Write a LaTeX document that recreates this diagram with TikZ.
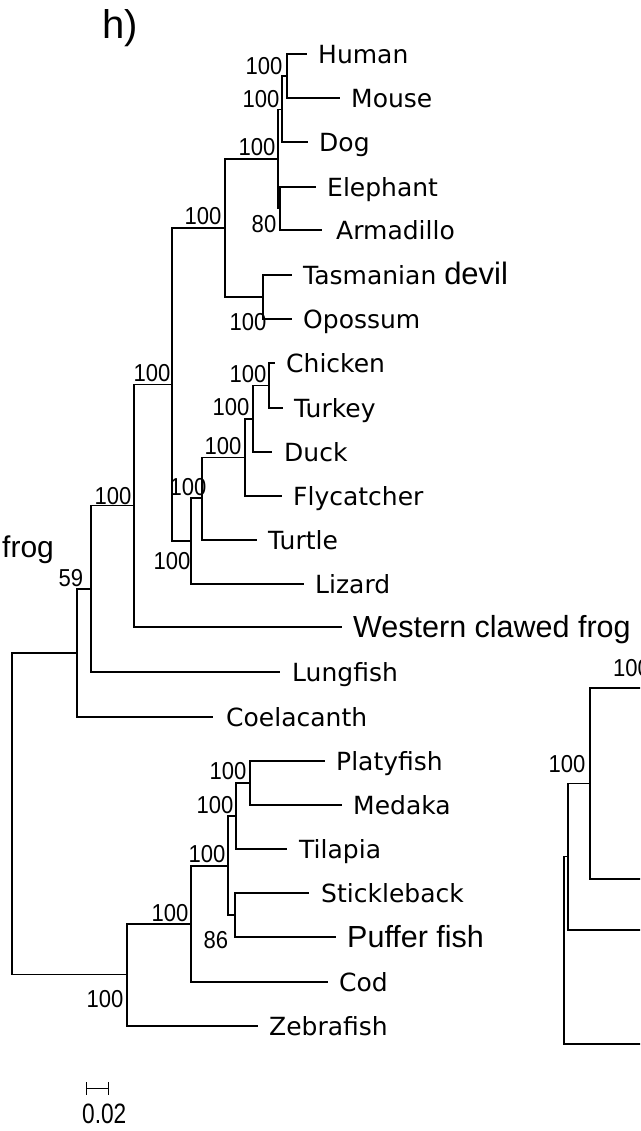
\documentclass[tikz,border=0pt]{standalone}
\usepackage{fontspec}
\newfontfamily\gothic{DejaVu Sans}
\newfontfamily\arial{Liberation Sans}
\newcommand{\bsv}[1]{\scalebox{0.9}[1]{\arial\fontsize{24.5}{24.5}\selectfont #1}}
\begin{document}
\begin{tikzpicture}[x=1pt,y=-1pt,
  br/.style={line width=1.1pt, line join=miter},
  rt/.style={line width=1.9pt, line join=miter},
  leaf/.style={anchor=west, inner xsep=11pt, inner ysep=0pt,
    font=\gothic\fontsize{25}{25}\selectfont, text height=18.2pt, text depth=0pt},
  leafA/.style={leaf, font=\arial\fontsize{30.5}{30.5}\selectfont, text height=21.8pt},
  boot/.style={inner sep=0pt, text height=17.5pt, text depth=0pt}
]
\useasboundingbox (0,0) rectangle (640,1131);
\clip (0,0) rectangle (640,1131);

% panel label and cut-off text from neighbouring panel
\node[anchor=base west, inner sep=0pt, font=\arial\fontsize{40}{40}\selectfont] (hlab) at (102,39) {h)};
\node[anchor=base west, inner sep=0pt, font=\arial\fontsize{30}{30}\selectfont] (frogcut) at (2,557) {frog};

% internal nodes
\coordinate (nHM)   at (287,76);
\coordinate (nHMD)  at (282,109.5);
\coordinate (nEA)   at (280,208);
\coordinate (nPlac) at (278,159);
\coordinate (nMars) at (263,297);
\coordinate (nMamm) at (225,228);
\coordinate (nCT)   at (269,385.5);
\coordinate (nCTD)  at (253,419);
\coordinate (nBird) at (245,457.5);
\coordinate (nBT)   at (202,498);
\coordinate (nSaur) at (191,541);
\coordinate (nAmn)  at (172,384.5);
\coordinate (nTet)  at (134,505.5);
\coordinate (nSarc) at (91,589);
\coordinate (nLobe) at (77,653);
\coordinate (root)  at (12,813.5);
\coordinate (nFish) at (127,974.5);
\coordinate (nPC)   at (191,924);
\coordinate (nPerc) at (228,866);
\coordinate (nPMT)  at (236,816);
\coordinate (nPM)   at (250,783);
\coordinate (nSP)   at (235,915);

% leaves
\node[leaf] (human)  at (307,54)  {Human};
\node[leaf] (mouse)  at (340,98)  {Mouse};
\node[leaf] (dog)    at (308,142) {Dog};
\node[leaf] (eleph)  at (316,187) {Elephant};
\node[leaf, inner xsep=14pt] (armad)  at (322,230) {Armadillo};
\node[leaf] (tasm)   at (292,275) {Tasmanian {\arial\fontsize{31}{31}\selectfont devil}};
\node[leaf] (opos)   at (292,319) {Opossum};
\node[leaf] (chick)  at (275,363) {Chicken};
\node[leaf] (turk)   at (283,408) {Turkey};
\node[leaf, inner xsep=12pt] (duck)   at (272,452) {Duck};
\node[leaf] (flyc)   at (282,496) {Flycatcher};
\node[leaf] (turt)   at (257,540) {Turtle};
\node[leaf] (liz)    at (304,584) {Lizard};
\node[leafA] (xen)   at (342,627) {Western clawed frog};
\node[leaf, inner xsep=12pt] (lung)   at (280,672) {Lungfish};
\node[leaf, inner xsep=13pt] (coel)   at (213,717) {Coelacanth};
\node[leaf] (platy)  at (325,761) {Platyfish};
\node[leaf] (medaka) at (342,805) {Medaka};
\node[leaf, inner xsep=12pt] (tilap)  at (287,849) {Tilapia};
\node[leaf, inner xsep=12pt] (stick)  at (309,893) {Stickleback};
\node[leafA] (puff)  at (336,937) {Puffer fish};
\node[leaf] (cod)    at (328,982) {Cod};
\node[leaf] (zebra)  at (258,1026) {Zebrafish};

% branches
\draw[br] (nHM) |- (human.west) (nHM) |- (mouse.west);
\draw[br] (nHMD) |- (nHM) (nHMD) |- (dog.west);
\draw[br] (nEA) |- (eleph.west) (nEA) |- (armad.west);
\draw[br] (nPlac) |- (nHMD) (nPlac) |- (nEA);
\draw[br] (nMars) |- (tasm.west) (nMars) |- (opos.west);
\draw[br] (nMamm) |- (nPlac) (nMamm) |- (nMars);
\draw[br] (nCT) |- (chick.west) (nCT) |- (turk.west);
\draw[br] (nCTD) |- (nCT) (nCTD) |- (duck.west);
\draw[br] (nBird) |- (nCTD) (nBird) |- (flyc.west);
\draw[br] (nBT) |- (nBird) (nBT) |- (turt.west);
\draw[br] (nSaur) |- (nBT) (nSaur) |- (liz.west);
\draw[br] (nAmn) |- (nMamm) (nAmn) |- (nSaur);
\draw[br] (nTet) |- (nAmn) (nTet) |- (xen.west);
\draw[br] (nSarc) |- (nTet) (nSarc) |- (lung.west);
\draw[br] (nLobe) |- (nSarc) (nLobe) |- (coel.west);
\draw[br] (root) |- (nLobe) (root) |- (nFish);
\draw[br] (nFish) |- (nPC) (nFish) |- (zebra.west);
\draw[br] (nPC) |- (nPerc) (nPC) |- (cod.west);
\draw[br] (nPerc) |- (nPMT) (nPerc) |- (nSP);
\draw[br] (nPMT) |- (nPM) (nPMT) |- (tilap.west);
\draw[br] (nPM) |- (platy.west) (nPM) |- (medaka.west);
\draw[br] (nSP) |- (stick.west) (nSP) |- (puff.west);

% bootstrap values
\node[boot] (b1)  at (264,66)  {\bsv{100}};
\node[boot] (b2)  at (261,99)  {\bsv{100}};
\node[boot] (b3)  at (257,147) {\bsv{100}};
\node[boot] (b4)  at (264,224) {\bsv{80}};
\node[boot] (b5)  at (248,322) {\bsv{100}};
\node[boot] (b6)  at (203,216) {\bsv{100}};
\node[boot] (b7)  at (152,373) {\bsv{100}};
\node[boot] (b8)  at (248,374) {\bsv{100}};
\node[boot] (b9)  at (231,407) {\bsv{100}};
\node[boot] (b10) at (223,446) {\bsv{100}};
\node[boot] (b11) at (188,487) {\bsv{100}};
\node[boot] (b12) at (172,561) {\bsv{100}};
\node[boot] (b13) at (113,496) {\bsv{100}};
\node[boot] (b14) at (71,578)  {\bsv{59}};
\node[boot] (b15) at (228,771) {\bsv{100}};
\node[boot] (b16) at (215,805) {\bsv{100}};
\node[boot] (b17) at (207,854) {\bsv{100}};
\node[boot] (b18) at (216,940) {\bsv{86}};
\node[boot] (b19) at (170,913) {\bsv{100}};
\node[boot] (b20) at (105,999) {\bsv{100}};

% scale bar
\coordinate (sbL) at (86,1088);
\coordinate (sbR) at (108,1088);
\draw[line width=1pt] (sbL) -- (sbR);
\draw[line width=1pt] ([yshift=6pt]sbL) -- ([yshift=-7pt]sbL);
\draw[line width=1pt] ([yshift=6pt]sbR) -- ([yshift=-7pt]sbR);
\node[anchor=base west, inner sep=0pt] (sblab) at (82,1123)
  {\scalebox{0.81}[1]{\arial\fontsize{28}{28}\selectfont 0.02}};

% neighbouring panel (cut off at the right edge)
\coordinate (rA) at (590,783.5);
\coordinate (rB) at (568,856.5);
\coordinate (rC) at (564,950);
\coordinate (rE1) at (660,688);
\coordinate (rE2) at (660,879);
\coordinate (rE3) at (660,930);
\coordinate (rE4) at (660,1044);
\draw[rt] (rA) |- (rE1) (rA) |- (rE2);
\draw[rt] (rB) |- (rA) (rB) |- (rE3);
\draw[rt] (rC) |- (rB) (rC) |- (rE4);
\node[boot] (rb1) at (567,764) {\bsv{100}};
\node[boot, anchor=west] (rb2) at (613,668) {\bsv{100}};
\end{tikzpicture}
\end{document}
